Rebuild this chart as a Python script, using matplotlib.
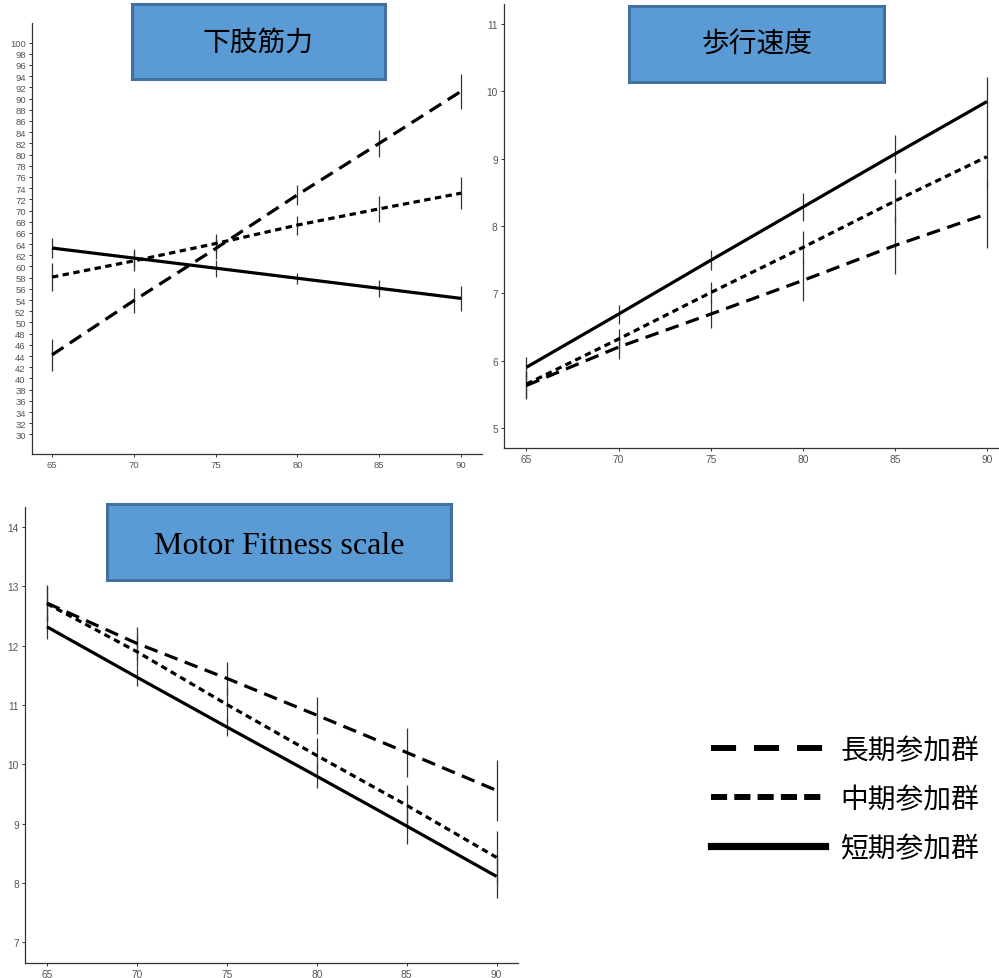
import matplotlib
matplotlib.use("Agg")
import matplotlib.pyplot as plt
from matplotlib.patches import Rectangle
from matplotlib.lines import Line2D

AGES = [65, 70, 75, 80, 85, 90]

# 下肢筋力
LEG_LONG = [44.2, 53.9, 63.2, 72.8, 82.0, 91.3]
LEG_MID = [58.1, 61.0, 64.1, 67.4, 70.3, 73.1]
LEG_SHORT = [63.3, 61.5, 59.7, 57.9, 56.1, 54.3]
LEG_LONG_ERR = [2.8, 2.2, 1.8, 1.8, 2.4, 3.1]
LEG_MID_ERR = [2.5, 1.8, 1.7, 1.7, 2.3, 2.9]
LEG_SHORT_ERR = [1.8, 1.6, 1.5, 1.0, 1.5, 2.3]

# 歩行速度
WALK_LONG = [5.63, 6.20, 6.69, 7.19, 7.71, 8.18]
WALK_MID = [5.65, 6.32, 7.01, 7.68, 8.37, 9.03]
WALK_SHORT = [5.90, 6.69, 7.49, 8.28, 9.07, 9.85]
WALK_LONG_ERR = [0.2, 0.17, 0.2, 0.3, 0.42, 0.5]
WALK_MID_ERR = [0.2, 0.15, 0.16, 0.25, 0.33, 0.47]
WALK_SHORT_ERR = [0.16, 0.14, 0.15, 0.21, 0.28, 0.36]

# Motor Fitness scale
MFS_LONG = [12.72, 12.04, 11.45, 10.83, 10.20, 9.56]
MFS_MID = [12.71, 11.90, 11.01, 10.15, 9.31, 8.43]
MFS_SHORT = [12.32, 11.47, 10.63, 9.80, 8.96, 8.11]
MFS_LONG_ERR = [0.3, 0.28, 0.28, 0.31, 0.41, 0.52]
MFS_MID_ERR = [0.3, 0.28, 0.3, 0.3, 0.35, 0.45]
MFS_SHORT_ERR = [0.2, 0.15, 0.15, 0.2, 0.3, 0.37]

GROUPS = ["長期参加群", "中期参加群", "短期参加群"]
TITLES = ["下肢筋力", "歩行速度", "Motor Fitness scale"]

W, H = 999, 979
CJK = ["Noto Sans CJK JP", "DejaVu Sans"]
BOX_FACE = "#5B9BD5"
BOX_EDGE = "#41719C"
TICK_COLOR = "#555555"

LONG_DASH = (4.3, 2.4)
MID_DASH = (2.0, 1.4)


def px_axes(fig, x0, y0, x1, y1):
    return fig.add_axes([x0 / W, 1 - y1 / H, (x1 - x0) / W, (y1 - y0) / H])


def style_axes(ax, xlim, ylim, yticks, fs):
    ax.set_xlim(*xlim)
    ax.set_ylim(*ylim)
    ax.set_xticks(AGES)
    ax.set_yticks(yticks)
    for s in ["top", "right"]:
        ax.spines[s].set_visible(False)
    for s in ["left", "bottom"]:
        ax.spines[s].set_color("#333333")
        ax.spines[s].set_linewidth(0.9)
    ax.tick_params(length=2.5, width=0.7, color="#333333", labelcolor=TICK_COLOR,
                   labelsize=fs, pad=2)
    for lab in ax.get_xticklabels() + ax.get_yticklabels():
        lab.set_family("Liberation Sans")
        lab.set_stretch("normal")


def draw_series(ax, long_v, mid_v, short_v, long_e, mid_e, short_e):
    for vals, errs in [(long_v, long_e), (mid_v, mid_e), (short_v, short_e)]:
        ax.errorbar(AGES, vals, yerr=errs, fmt="none", ecolor="#333333",
                    elinewidth=0.9, capsize=0, zorder=2)
    l1, = ax.plot(AGES, long_v, color="black", lw=2.3, zorder=3)
    l1.set_dashes(LONG_DASH)
    l2, = ax.plot(AGES, mid_v, color="black", lw=2.3, zorder=3)
    l2.set_dashes(MID_DASH)
    ax.plot(AGES, short_v, color="black", lw=2.3, solid_capstyle="butt", zorder=3)


def title_box(fig, x0, y0, x1, y1, text, dy=0, **kw):
    rect = Rectangle((x0 / W, 1 - y1 / H), (x1 - x0) / W, (y1 - y0) / H,
                     transform=fig.transFigure, facecolor=BOX_FACE,
                     edgecolor=BOX_EDGE, linewidth=2.2, zorder=5)
    fig.add_artist(rect)
    fig.text((x0 + x1) / 2 / W, 1 - ((y0 + y1) / 2 + dy) / H, text, ha="center",
             va="center", zorder=6, **kw)


def main() -> None:
    fig = plt.figure(figsize=(W / 100, H / 100), dpi=100)

    ax1 = px_axes(fig, 32, 24, 482, 455)
    draw_series(ax1, LEG_LONG, LEG_MID, LEG_SHORT,
                LEG_LONG_ERR, LEG_MID_ERR, LEG_SHORT_ERR)
    style_axes(ax1, (63.78, 91.28), (26.5, 103.5), list(range(30, 101, 2)), 6.8)

    ax2 = px_axes(fig, 504, 5, 998, 449)
    draw_series(ax2, WALK_LONG, WALK_MID, WALK_SHORT,
                WALK_LONG_ERR, WALK_MID_ERR, WALK_SHORT_ERR)
    style_axes(ax2, (63.78, 90.6), (4.70, 11.30), list(range(5, 12)), 7.3)

    ax3 = px_axes(fig, 25, 508, 518, 964)
    draw_series(ax3, MFS_LONG, MFS_MID, MFS_SHORT,
                MFS_LONG_ERR, MFS_MID_ERR, MFS_SHORT_ERR)
    style_axes(ax3, (63.78, 91.19), (6.65, 14.34), list(range(7, 15)), 7.3)

    title_box(fig, 132, 5, 385, 80, TITLES[0], family=CJK, fontsize=20)
    title_box(fig, 629, 7, 884, 83, TITLES[1], family=CJK, fontsize=20)
    title_box(fig, 107, 505, 451, 581, TITLES[2], dy=3,
              family="Liberation Serif", fontsize=23)

    handles = [
        Line2D([], [], color="black", lw=4.3, dashes=(4.2, 3.0)),
        Line2D([], [], color="black", lw=4.3, dashes=(2.7, 1.2)),
        Line2D([], [], color="black", lw=5.2),
    ]
    fig.legend(handles, GROUPS, loc="center left",
               bbox_to_anchor=(686 / W, 1 - 800 / H), frameon=False,
               handlelength=4.1, handletextpad=0.55, labelspacing=0.68,
               prop={"family": CJK, "size": 20})

    fig.savefig("out.png", dpi=100)


if __name__ == "__main__":
    main()
